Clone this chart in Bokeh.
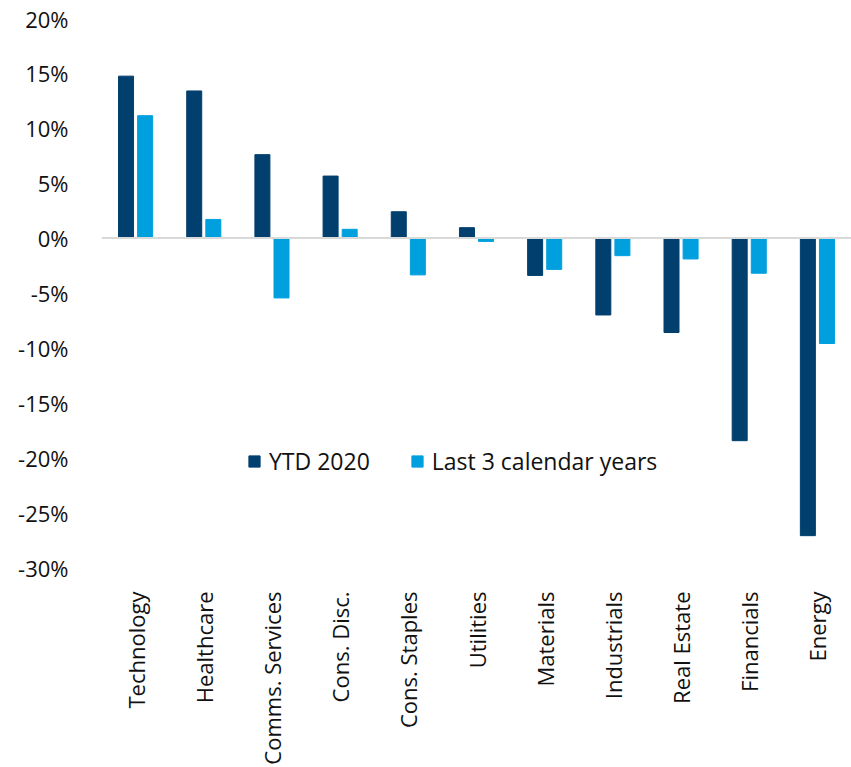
import math
from bokeh.plotting import figure
from bokeh.models import (ColumnDataSource, Span, Legend, LegendItem, FixedTicker,
                          Range1d, FactorRange)
from bokeh.transform import dodge
from bokeh.embed import file_html
from bokeh.resources import INLINE

sectors = ["Technology", "Healthcare", "Comms. Services", "Cons. Disc.", "Cons. Staples",
           "Utilities", "Materials", "Industrials", "Real Estate", "Financials", "Energy"]
ytd_2020 = [14.75, 13.4, 7.6, 5.65, 2.4, 0.95, -3.4, -7.0, -8.6, -18.45, -27.1]
last_3y = [11.15, 1.7, -5.45, 0.8, -3.35, -0.3, -2.85, -1.6, -1.9, -3.2, -9.6]
y_ticks = [-30, -25, -20, -15, -10, -5, 0, 5, 10, 15, 20]
series_names = ["YTD 2020", "Last 3 calendar years"]

DARK = "#003f6e"
LIGHT = "#00a0df"
FONT = "Open Sans"
TXT = "#111111"

src = ColumnDataSource(dict(sector=sectors, ytd=ytd_2020, l3=last_3y))

p = figure(width=851, height=767, x_range=FactorRange(factors=sectors, range_padding=0),
           y_range=Range1d(-30, 20), output_backend="svg", toolbar_location=None,
           min_border_left=101, min_border_right=0, min_border_top=18, min_border_bottom=197)

r1 = p.vbar(x=dodge("sector", -0.14, range=p.x_range), top="ytd", width=0.22, source=src,
            fill_color=DARK, line_color=DARK)
r2 = p.vbar(x=dodge("sector", 0.14, range=p.x_range), top="l3", width=0.22, source=src,
            fill_color=LIGHT, line_color=LIGHT)

p.add_layout(Span(location=0, dimension="width", line_color="#d9d9d9", line_width=2))

p.xgrid.visible = False
p.ygrid.visible = False
p.outline_line_color = None

p.yaxis.ticker = FixedTicker(ticks=y_ticks)
p.yaxis.major_label_overrides = {t: f"{t}%" for t in y_ticks}
p.yaxis.axis_line_color = None
p.yaxis.major_tick_line_color = None
p.yaxis.minor_tick_line_color = None
p.yaxis.major_label_standoff = 27
p.yaxis.major_label_text_font = FONT
p.yaxis.major_label_text_font_size = "22px"
p.yaxis.major_label_text_color = TXT

p.xaxis.axis_line_color = None
p.xaxis.major_tick_line_color = None
p.xaxis.major_label_orientation = math.pi / 2
p.xaxis.major_label_standoff = 18
p.xaxis.major_label_text_font = FONT
p.xaxis.major_label_text_font_size = "22px"
p.xaxis.major_label_text_color = TXT

legend = Legend(items=[LegendItem(label=series_names[0], renderers=[r1]),
                       LegendItem(label=series_names[1], renderers=[r2])],
                location=(146, 90), orientation="horizontal")
legend.border_line_color = None
legend.background_fill_alpha = 0
legend.label_text_font = FONT
legend.label_text_font_size = "23px"
legend.label_text_color = TXT
legend.glyph_width = 14
legend.glyph_height = 14
legend.spacing = 40
legend.padding = 0
legend.margin = 0
legend.label_standoff = 8
p.add_layout(legend, "center")

open("out.html", "w").write(file_html(p, INLINE))
